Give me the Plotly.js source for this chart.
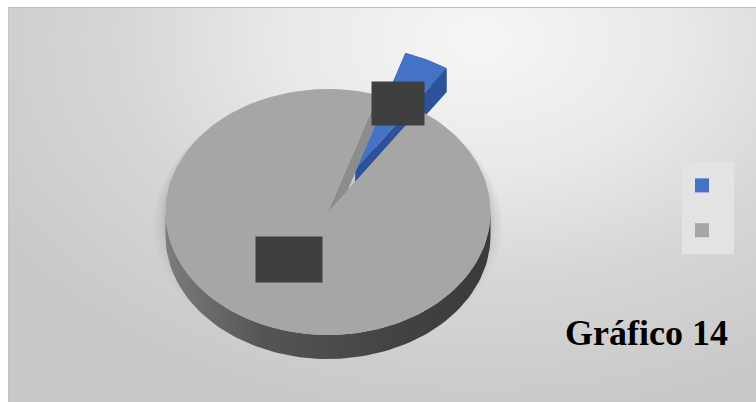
<!DOCTYPE html>
<html>
<head>
<meta charset="utf-8">
<script src="https://cdn.plot.ly/plotly-3.0.1.min.js"></script>
<style>
  html, body { margin:0; padding:0; background:#ffffff; }
  #frame { position:absolute; left:8px; top:7px; width:748px; height:395px;
    border-top:1px solid #bdbdbd; border-left:1px solid #c4c4c4; box-sizing:border-box;
    background: radial-gradient(ellipse 75% 95% at 63% 8%, #f6f6f6 0%, #e9e9e9 35%, #d6d6d6 65%, #c9c9c9 100%); }
  #chart { position:absolute; left:0; top:0; width:756px; height:402px; }
</style>
</head>
<body>
<div id="frame"></div>
<div id="chart"></div>
<script>
// ---- data ----
const categories = [' ', ' '];          // category labels are hidden in the source
const values = [4.5, 95.5];             // blue slice, gray slice (share of total)
const sliceColors = ['#4472c4', '#a6a6a6'];
const wallColors = ['#2d529c', '#8c8c8c'];
const explodeFrac = [0.38, 0];
const chartTitle = 'Gráfico 14';

// ---- geometry of the pseudo-3D pie ----
const CX = 328, CY = 212, RX = 162.5, RY = 123, DEPTH = 24, START = 18;
const LABEL_R = [0.6, 0.43];
const rad = d => d * Math.PI / 180;
function pt(theta, r, off, dz) {
  return [CX + off[0] + RX * r * Math.sin(rad(theta)),
          CY + off[1] - RY * r * Math.cos(rad(theta)) + (dz || 0)];
}
function arc(a, b, r, off, dz) {
  const n = Math.max(4, Math.ceil(Math.abs(b - a) / 2));
  const out = [];
  for (let i = 0; i <= n; i++) out.push(pt(a + (b - a) * i / n, r, off, dz));
  return out;
}
function trace(points, color, extra) {
  return Object.assign({
    type: 'scatter', mode: 'lines', fill: 'toself',
    x: points.map(p => p ? p[0] : null), y: points.map(p => p ? p[1] : null),
    fillcolor: color, line: { width: 0, color: color },
    hoverinfo: 'skip', showlegend: false
  }, extra || {});
}

const total = values.reduce((a, b) => a + b, 0);
let acc = START;
const slices = values.map((v, i) => {
  const s = acc, e = acc + v / total * 360; acc = e;
  const mid = (s + e) / 2;
  const off = [RX * explodeFrac[i] * Math.sin(rad(mid)), -RY * explodeFrac[i] * Math.cos(rad(mid))];
  return { s, e, mid, off, i };
});

const traces = [];
// soft shadow
[[1.07, 12, 0.018], [1.05, 10, 0.022], [1.03, 8, 0.028], [1.015, 6, 0.035]].forEach(s => {
  traces.push(trace(arc(0, 360, s[0], [0, s[1]]), 'rgba(0,0,0,' + s[2] + ')'));
});

function walls(sl) {
  const c0 = pt(0, 0, sl.off), c1 = pt(0, 0, sl.off, DEPTH);
  const pts = [];
  [sl.s, sl.e].forEach(t => {
    pts.push(c0, pt(t, 1, sl.off), pt(t, 1, sl.off, DEPTH), c1, null);
  });
  const a = Math.max(sl.s, 90), b = Math.min(sl.e, 270);
  let band = null;
  if (b > a) band = arc(a, b, 1, sl.off).concat(arc(b, a, 1, sl.off, DEPTH));
  return { pts, band };
}

// draw order: exploded blue slice first, then gray slice
[0, 1].forEach(i => {
  const sl = slices[i];
  const w = walls(sl);
  if (i === 0) {
    const outer = arc(sl.s, sl.e, 1, sl.off).concat(arc(sl.e, sl.s, 1, sl.off, DEPTH));
    traces.push(trace(outer, wallColors[0]));
  }
  traces.push(trace(w.pts, wallColors[i]));
  if (w.band) {
    traces.push(trace(w.band, '#555555', {
      fillgradient: { type: 'horizontal',
        colorscale: [[0, '#7c7c7c'], [0.3, '#555555'], [0.7, '#434343'], [1, '#3a3a3a']] }
    }));
  }
  const top = [pt(0, 0, sl.off)].concat(arc(sl.s, sl.e, 1, sl.off));
  traces.push(trace(top, sliceColors[i]));
});

// legend proxies
values.forEach((v, i) => {
  traces.push({ type: 'scatter', mode: 'markers', x: [null], y: [null],
    name: categories[i], legendgroup: 'g' + i, showlegend: true,
    marker: { symbol: 'square', size: 14, color: sliceColors[i] }, hoverinfo: 'skip' });
});

// hidden data labels (dark boxes in the source)
const boxSize = [[50, 41], [64, 43]];
const annotations = slices.map((sl, i) => {
  const p = pt(sl.mid, LABEL_R[i], sl.off);
  return { x: p[0] - (i === 1 ? 8 : 0), y: p[1], xref: 'x', yref: 'y', text: ' ', showarrow: false,
    width: boxSize[i][0], height: boxSize[i][1], bgcolor: '#3f3f3f',
    font: { size: 10, color: '#3f3f3f' } };
});
annotations.push({ x: 563 / 756, y: 1 - 355 / 402, xref: 'paper', yref: 'paper',
  xanchor: 'left', yanchor: 'bottom', showarrow: false, text: '<b>' + chartTitle + '</b>',
  font: { family: 'Liberation Serif, Times New Roman, serif', size: 36, color: '#000000' } });

const layout = {
  width: 756, height: 402,
  margin: { l: 0, r: 0, t: 0, b: 0 },
  paper_bgcolor: 'rgba(0,0,0,0)', plot_bgcolor: 'rgba(0,0,0,0)',
  xaxis: { range: [0, 756], visible: false, fixedrange: true },
  yaxis: { range: [402, 0], visible: false, fixedrange: true },
  showlegend: true,
  legend: { x: 682 / 756, y: 1 - 162 / 402, xanchor: 'left', yanchor: 'top',
    bgcolor: '#e3e3e3', borderwidth: 0, traceorder: 'grouped', tracegroupgap: 8,
    font: { size: 26, color: '#000' }, entrywidth: 30 },
  annotations: annotations
};
Plotly.newPlot('chart', traces, layout, { staticPlot: true, displayModeBar: false });
</script>
</body>
</html>
